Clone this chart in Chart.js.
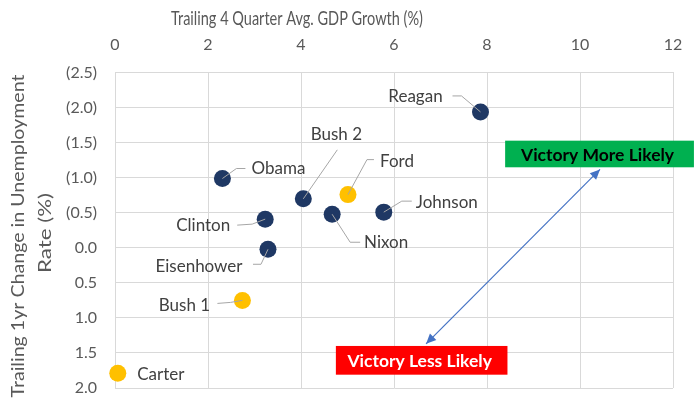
<!DOCTYPE html>
<html>
<head>
<meta charset="utf-8">
<script src="https://cdn.jsdelivr.net/npm/chart.js@4.4.1/dist/chart.umd.min.js"></script>
<style>
  html,body{margin:0;padding:0;background:#fff;}
  #wrap{width:695px;height:405px;position:relative;}
</style>
</head>
<body>
<div id="wrap"><canvas id="c" width="695" height="405"></canvas></div>
<script>
// ---- data ----
const presidents = ['Reagan','Obama','Bush 2','Ford','Johnson','Clinton','Nixon','Eisenhower','Bush 1','Carter'];
const gdpGrowth  = [7.86, 2.31, 4.05, 5.01, 5.78, 3.23, 4.67, 3.29, 2.74, 0.06];
const unempChange = [-1.94, -0.99, -0.70, -0.76, -0.51, -0.41, -0.48, 0.02, 0.75, 1.79];
const reelected  = [true, true, true, false, true, true, true, true, false, false];
const xTicks = [0, 2, 4, 6, 8, 10, 12];
const yTicks = [-2.5, -2.0, -1.5, -1.0, -0.5, 0, 0.5, 1.0, 1.5, 2.0];
const xTitle = 'Trailing 4 Quarter Avg. GDP Growth (%)';
const yTitle = ['Trailing 1yr Change in Unemployment', 'Rate (%)'];
const moreLabel = 'Victory More Likely';
const lessLabel = 'Victory Less Likely';

// ---- styles / label placement (pixel offsets from point) ----
const NAVY = '#1F3864', GOLD = '#FFC000';
const FONT = 'Lato, Carlito, Calibri, sans-serif';
const labelPlacement = {
  'Reagan':     {dx:-65, dy:-15, lead:[[-28,-16],[-19,-16],[0,0]]},
  'Obama':      {dx:56,  dy:-10, lead:[[23,-10],[14,-10],[0,0]]},
  'Bush 2':     {dx:33,  dy:-64, lead:[[34,-49],[0,0]]},
  'Ford':       {dx:49,  dy:-33, lead:[[26,-35],[19,-35],[0,0]]},
  'Johnson':    {dx:63,  dy:-10, lead:[[28,-11],[18,-11],[0,0]]},
  'Clinton':    {dx:-62, dy:6,   lead:[[-28,6],[-13,5],[0,0]]},
  'Nixon':      {dx:54,  dy:28,  lead:[[28,28],[18,28],[0,0]]},
  'Eisenhower': {dx:-69, dy:17,  lead:[[-15,15],[-7,15],[0,0]]},
  'Bush 1':     {dx:-58, dy:5,   lead:[[-25,3],[-12,2],[0,0]]},
  'Carter':     {dx:43,  dy:1,   lead:null}
};
// annotation boxes in data units
const boxes = [
  {text: moreLabel, x0:8.39, x1:12.45, y0:-1.53, y1:-1.15, fill:'#00B050', color:'#000000'},
  {text: lessLabel, x0:4.75, x1:8.44,  y0:1.40,  y1:1.81,  fill:'#FF0000', color:'#FFFFFF'}
];
const arrowEnds = {x0:10.43, y0:-1.12, x1:6.69, y1:1.37};

const points = gdpGrowth.map((x, i) => ({x: x, y: unempChange[i]}));

function fmtY(v){
  const r = Math.round(v*10)/10;
  if (Math.abs(r) < 1e-9) return '0.0';
  return r < 0 ? '(' + Math.abs(r).toFixed(1) + ')' : r.toFixed(1);
}

function arrowHead(ctx, fx, fy, tx, ty, len, w){
  const a = Math.atan2(ty-fy, tx-fx);
  ctx.beginPath();
  ctx.moveTo(tx, ty);
  ctx.lineTo(tx - len*Math.cos(a) + w*Math.sin(a), ty - len*Math.sin(a) - w*Math.cos(a));
  ctx.lineTo(tx - len*Math.cos(a) - w*Math.sin(a), ty - len*Math.sin(a) + w*Math.cos(a));
  ctx.closePath();
  ctx.fill();
}

function fitText(ctx, text, cx, cy, targetW){
  const w = ctx.measureText(text).width;
  const s = targetW / w;
  ctx.save();
  ctx.translate(cx, cy);
  ctx.scale(s, 1);
  ctx.fillText(text, 0, 0);
  ctx.restore();
}

const overlay = {
  id: 'overlay',
  afterDatasetsDraw(chart){
    const ctx = chart.ctx;
    const xs = chart.scales.x, ys = chart.scales.y;
    const meta = chart.getDatasetMeta(0);
    ctx.save();
    // leader lines & labels
    meta.data.forEach((el, i) => {
      const name = presidents[i];
      const p = labelPlacement[name];
      if (!p) return;
      if (p.lead){
        ctx.strokeStyle = '#A6A6A6';
        ctx.lineWidth = 1;
        ctx.beginPath();
        p.lead.forEach((q, k) => {
          const px = el.x + q[0], py = el.y + q[1];
          if (k === 0) ctx.moveTo(px, py); else ctx.lineTo(px, py);
        });
        ctx.stroke();
      }
      ctx.fillStyle = '#404040';
      ctx.font = '17px ' + FONT;
      ctx.textAlign = 'center';
      ctx.textBaseline = 'middle';
      ctx.fillText(name, el.x + p.dx, el.y + p.dy);
    });
    // boxes
    boxes.forEach(b => {
      const l = xs.getPixelForValue(b.x0), r = xs.getPixelForValue(b.x1);
      const t = ys.getPixelForValue(b.y0), bt = ys.getPixelForValue(b.y1);
      ctx.fillStyle = b.fill;
      ctx.fillRect(l, t, r-l, bt-t);
      ctx.fillStyle = b.color;
      ctx.font = 'bold 17.5px ' + FONT;
      ctx.textAlign = 'center';
      ctx.textBaseline = 'middle';
      ctx.fillText(b.text, (l+r)/2 - 2, (t+bt)/2 + 1);
    });
    // arrow
    const ax0 = xs.getPixelForValue(arrowEnds.x0), ay0 = ys.getPixelForValue(arrowEnds.y0);
    const ax1 = xs.getPixelForValue(arrowEnds.x1), ay1 = ys.getPixelForValue(arrowEnds.y1);
    ctx.strokeStyle = '#4472C4';
    ctx.fillStyle = '#4472C4';
    ctx.lineWidth = 1.2;
    ctx.beginPath();
    ctx.moveTo(ax0, ay0); ctx.lineTo(ax1, ay1);
    ctx.stroke();
    arrowHead(ctx, ax1, ay1, ax0, ay0, 10, 4.5);
    arrowHead(ctx, ax0, ay0, ax1, ay1, 10, 4.5);
    // axis titles
    ctx.fillStyle = '#595959';
    ctx.font = '19px ' + FONT;
    ctx.textAlign = 'center';
    ctx.textBaseline = 'middle';
    fitText(ctx, xTitle, 297, 19, 252);
    ctx.translate(31, 237);
    ctx.rotate(-Math.PI/2);
    ctx.font = '18px ' + FONT;
    fitText(ctx, yTitle[0], 1, -13, 323);
    fitText(ctx, yTitle[1], 4, 14, 80);
    ctx.restore();
  }
};

new Chart(document.getElementById('c'), {
  type: 'scatter',
  data: {
    datasets: [{
      data: points,
      backgroundColor: reelected.map(w => w ? NAVY : GOLD),
      borderColor: reelected.map(w => w ? NAVY : GOLD),
      pointRadius: 8.5,
      pointHoverRadius: 8.5,
      borderWidth: 0,
      clip: false
    }]
  },
  options: {
    responsive: false,
    animation: false,
    events: [],
    layout: {padding: {left: 0, right: 22, top: 0, bottom: 17}},
    plugins: {legend: {display: false}, tooltip: {enabled: false}},
    scales: {
      x: {
        type: 'linear',
        position: 'top',
        min: 0, max: 12,
        afterBuildTicks(s){ s.ticks = xTicks.map(v => ({value: v})); },
        afterFit(s){ s.height = 72.7; s.paddingLeft = 0; s.paddingRight = 0; },
        ticks: {color: '#595959', font: {family: FONT, size: 16}, padding: 18},
        grid: {color: '#D9D9D9', lineWidth: 1, drawTicks: false},
        border: {display: true, color: '#D9D9D9'}
      },
      y: {
        type: 'linear',
        reverse: true,
        min: -2.5, max: 2.0,
        afterBuildTicks(s){ s.ticks = yTicks.map(v => ({value: v})); },
        afterFit(s){ s.width = 115; s.paddingTop = 0; s.paddingBottom = 0; },
        ticks: {color: '#595959', font: {family: FONT, size: 16}, padding: 18, callback: v => fmtY(v)},
        grid: {color: '#D9D9D9', lineWidth: 1, drawTicks: false},
        border: {display: true, color: '#D9D9D9'}
      }
    }
  },
  plugins: [overlay]
});
</script>
</body>
</html>
